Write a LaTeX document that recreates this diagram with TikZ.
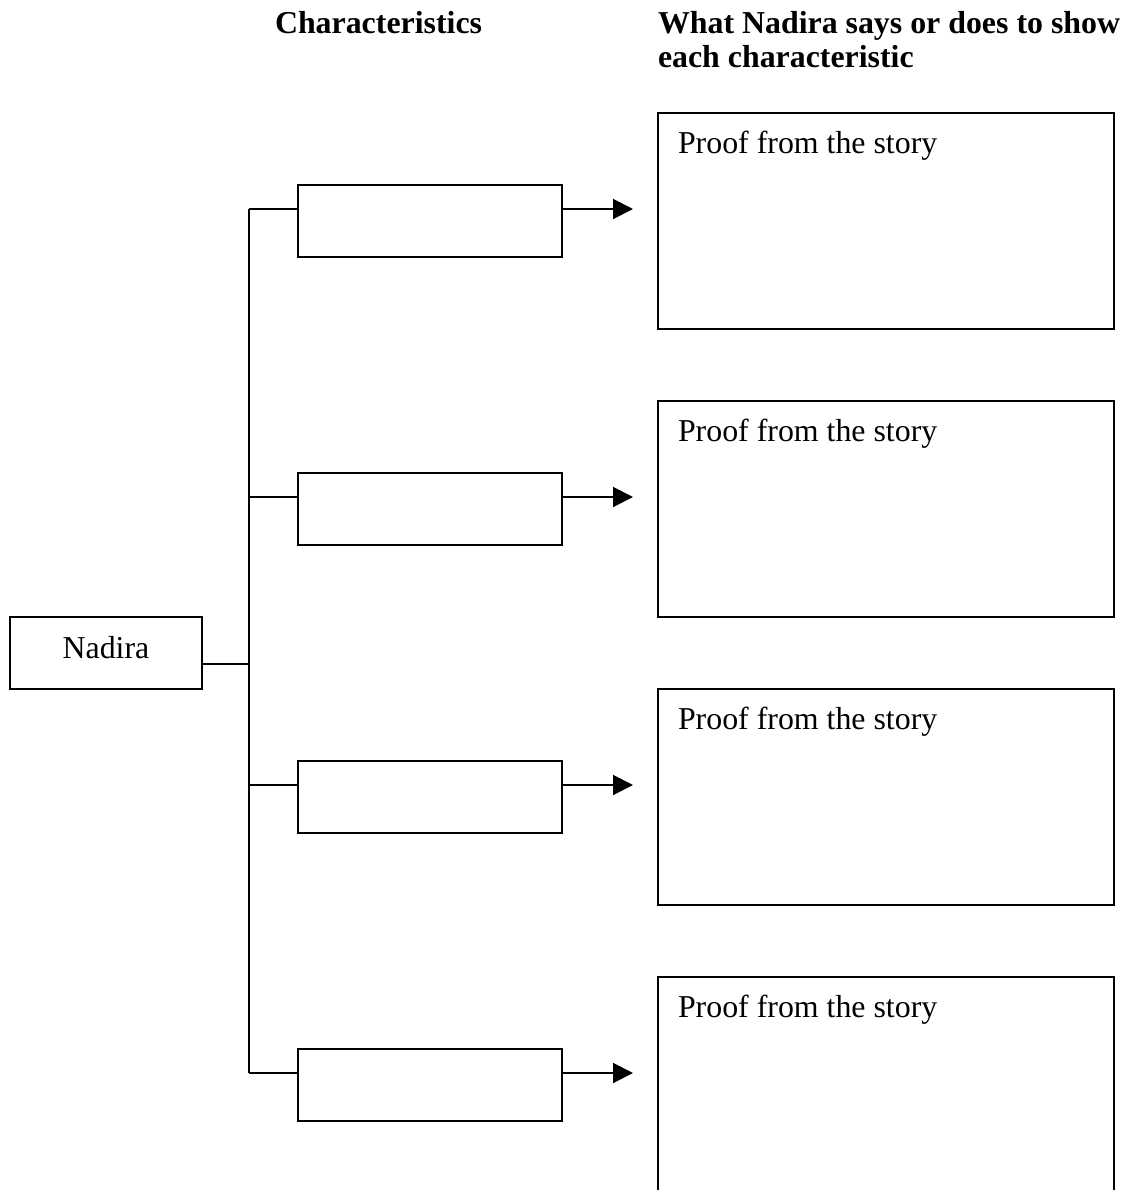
\documentclass[tikz,border=0pt]{standalone}
\usepackage{fontspec}
\setmainfont{Liberation Serif}
\usetikzlibrary{arrows.meta,calc}
\begin{document}
\begin{tikzpicture}[x=0.75pt,y=-0.75pt,
  every node/.style={inner sep=0pt,outer sep=0pt},
  txt/.style={font=\fontsize{23.9}{26}\selectfont},
  head/.style={font=\fontsize{23.9}{26}\selectfont\bfseries},
  linew/.style={line width=1.5pt},
  mainbox/.style={draw,linew,minimum width=144pt,minimum height=54pt,txt},
  charbox/.style={draw,linew,minimum width=198pt,minimum height=54pt},
  proofbox/.style={draw,linew,minimum width=342pt,minimum height=162pt},
  conn/.style={linew},
  arr/.style={linew,-{Triangle[length=15pt,width=15pt]}}]
\useasboundingbox (0,0) rectangle (1125,1190);
% headings
\node[head,anchor=base west] (h1) at (275,33) {Characteristics};
\node[head,anchor=base west] (h2) at (658,33) {What Nadira says or does to show};
\node[head,anchor=base west] (h3) at (658,67) {each characteristic};
% Nadira
\node[mainbox,anchor=north west] (nad) at (10,617) {};
\node[txt,anchor=base] (nadt) at (106,658) {Nadira};
% characteristic boxes
\foreach \i/\y in {1/185,2/473,3/761,4/1049}{
  \node[charbox,anchor=north west] (cb\i) at (298,\y) {};
}
% proof boxes
\foreach \i/\y in {1/113,2/401,3/689}{
  \node[proofbox,anchor=north west] (pb\i) at (658,\y) {};
  \node[txt,anchor=base west] (pt\i) at ($(pb\i.north west)+(20,40)$) {Proof from the story};
}
\coordinate (pb4) at (658,977);
\draw[linew] (658,1200) -- (pb4) -- (1114,977) -- (1114,1200);
\node[txt,anchor=base west] (pt4) at ($(pb4)+(20,40)$) {Proof from the story};
% trunk
\coordinate (tn) at (249,664);
\draw[conn] (nad.east |- tn) -- (tn);
\foreach \i/\y in {1/209,2/497,3/785,4/1073}{
  \coordinate (b\i) at (249,\y);
  \coordinate (t\i) at (633,\y);
  \draw[conn] (b\i) -- (cb\i.west |- b\i);
  \draw[arr] (cb\i.east |- b\i) -- (t\i);
}
\draw[conn] (b1) -- (b4);
\end{tikzpicture}
\end{document}
